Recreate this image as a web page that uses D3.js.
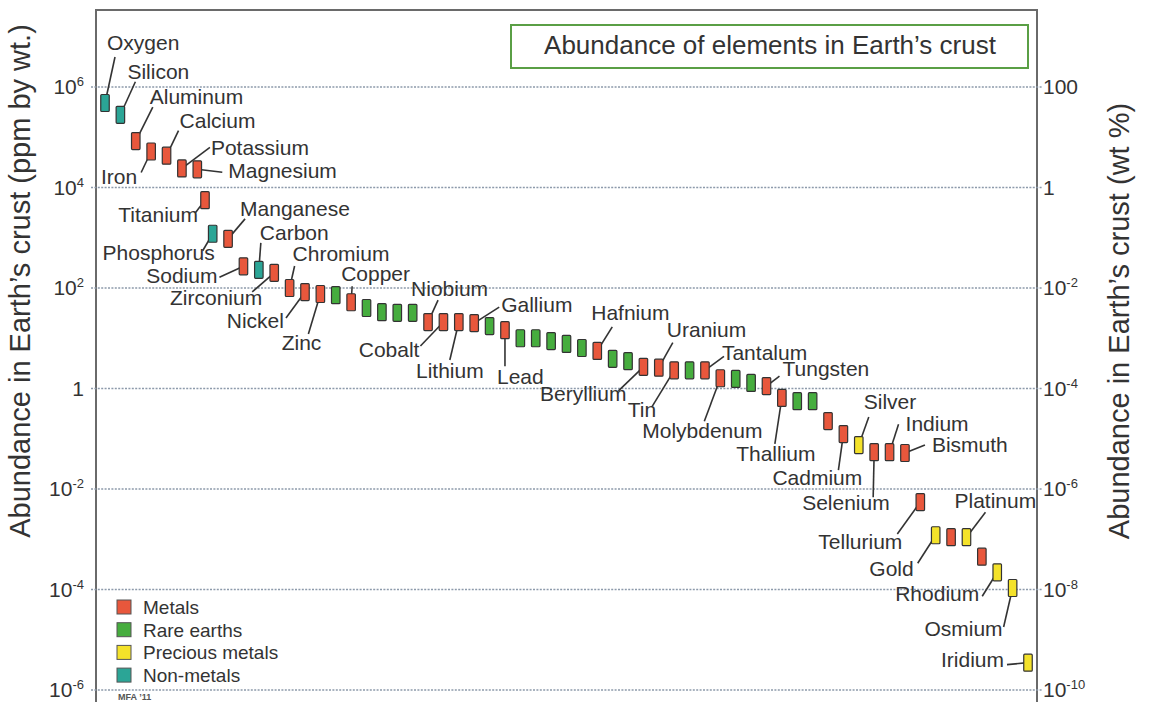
<!DOCTYPE html>
<html><head><meta charset="utf-8">
<script src="https://cdn.jsdelivr.net/npm/d3@7"></script>
<style>body{margin:0;background:#fff}svg{display:block;font-family:"Liberation Sans",Arial,Helvetica,sans-serif}</style>
</head><body><svg id="c" width="1171" height="702"></svg>
<script>
// ---------------- data ----------------
const names = ["Oxygen","Silicon","Aluminum","Iron","Calcium","Potassium","Magnesium","Titanium","Phosphorus","Manganese",
"Sodium","Carbon","Zirconium","Chromium","Nickel","Zinc","","Copper","","",
"","","Niobium","Cobalt","Lithium","Gallium","","Lead","","",
"","","","Hafnium","","","Beryllium","Uranium","Tin","",
"Tantalum","Molybdenum","","","Tungsten","Thallium","","","","Cadmium",
"Silver","Selenium","Indium","Bismuth","Tellurium","Gold","","Platinum","","Rhodium",
"Osmium","Iridium"];
const groups = ["N","N","M","M","M","M","M","M","N","M",
"M","N","M","M","M","M","R","M","R","R",
"R","R","M","M","M","M","R","M","R","R",
"R","R","R","M","R","R","M","M","M","R",
"M","M","R","R","M","M","R","R","M","M",
"P","M","M","M","M","P","M","P","M","P",
"P","P"];
// position of each element along the ranked axis (Titanium shares a half column)
const order = [0,1,2,3,4,5,6,6.5,7,8,
9,10,11,12,13,14,15,16,17,18,
19,20,21,22,23,24,25,26,27,28,
29,30,31,32,33,34,35,36,37,38,
39,40,41,42,43,44,45,46,47,48,
49,50,51,52,53,54,55,56,57,58,
59,60];
const ppm = [4.8e5,2.8e5,8.4e4,5.2e4,4.3e4,2.4e4,2.3e4,5.6e3,1.2e3,9.5e2,
270,230,200,100,83,76,72,52,40,33,
32,32,21,21,21,20,17.5,14.5,10,10,
8.8,7.7,6.4,5.6,3.9,3.5,2.7,2.6,2.3,2.3,
2.3,1.6,1.55,1.29,1.12,0.65,0.56,0.56,0.225,0.124,
0.075,0.054,0.054,0.052,0.0055,0.0012,0.0011,0.0011,0.00045,0.00022,
0.000107,3.5e-6];
const leftTicks = [1e6,1e4,1e2,1,1e-2,1e-4,1e-6];
const rightTicks = [100,1,1e-2,1e-4,1e-6,1e-8,1e-10];
const legendKeys = ["M","R","P","N"];
const legendLabels = ["Metals","Rare earths","Precious metals","Non-metals"];
const titleText = "Abundance of elements in Earth\u2019s crust";
const leftTitle = "Abundance in Earth\u2019s crust (ppm by wt.)";
const rightTitle = "Abundance in Earth\u2019s crust (wt %)";
const credit = "MFA \u201911";

// ---------------- styling / layout ----------------
const colors = {M:"#e8573c", R:"#46ad3e", P:"#f4e22a", N:"#2ba596"};
const frame = {left:96, right:1037, top:10, bottom:712};
// label layout: [text dx, text dy, anchor, leader-end dx, leader-end dy] relative to bar centre
const labelLayout = {
 Oxygen:[2,-53,"start",10,-46], Silicon:[7,-36,"start",15,-33], Aluminum:[14,-37,"start",17,-34],
 Iron:[-14,32,"end",-10,21], Calcium:[13,-28,"start",12,-25], Potassium:[29,-13,"start",28,-21],
 Magnesium:[31,9,"start",25,3], Titanium:[-7,22,"end",-10,13], Phosphorus:[2,26,"end",-10,17],
 Manganese:[12,-23,"start",17,-20], Sodium:[-26,17,"end",-24,11], Carbon:[1,-30,"start",2,-27],
 Zirconium:[-12,32,"end",-22,19], Chromium:[3,-27,"start",5,-22], Nickel:[-21,36,"end",-19,26],
 Zinc:[1,56,"end",-12,40], Copper:[-10,-21,"start",1,-16], Niobium:[-17,-26,"start",10,-22],
 Cobalt:[-24,35,"end",-23,24], Lithium:[-9,56,"middle",-9,38], Gallium:[27,-11,"start",25,-16],
 Lead:[-8,54,"start",0,36], Hafnium:[-6,-31,"start",15,-24], Beryllium:[-17,34,"end",-25,24],
 Uranium:[8,-31,"start",14,-25], Tin:[-18,47,"end",-22,36], Tantalum:[17,-10,"start",19,-14],
 Molybdenum:[-18,60,"middle",-16,43], Tungsten:[16,-10,"start",13,-10], Thallium:[-6,63,"middle",-7,46],
 Cadmium:[-71,51,"start",-5,36], Silver:[5,-36,"start",10,-28], Selenium:[-72,58,"start",-1,45],
 Indium:[16,-21,"start",9,-28], Bismuth:[27,-1,"start",20,-8], Tellurium:[-18,47,"end",-23,32],
 Gold:[-22,41,"end",-18,28], Platinum:[-12,-29,"start",19,-25], Rhodium:[-18,29,"end",-15,24],
 Osmium:[-10,48,"end",-9,39], Iridium:[-24,4,"end",-21,2]
};

const svg = d3.select("#c");
const data = names.map((n,i)=>({name:n, group:groups[i], pos:order[i], v:ppm[i]}));

const x = d3.scaleLinear().domain([0,60]).range([105,1028]);
const y = d3.scaleLog().domain([1e-6,1e6]).range([690,87]);
const yR = d3.scaleLog().domain([1e-10,1e2]).range([690,87]);

const txt = "#333";

// frame
svg.append("rect").attr("x",frame.left).attr("y",frame.top)
  .attr("width",frame.right-frame.left).attr("height",frame.bottom-frame.top)
  .attr("fill","#fff").attr("stroke","#6a6a6a").attr("stroke-width",2);

// gridlines (dotted, extending as ticks on both sides)
svg.append("g").selectAll("line").data(leftTicks).join("line")
  .attr("x1",frame.left-5).attr("x2",frame.right+5)
  .attr("y1",d=>y(d)).attr("y2",d=>y(d))
  .attr("stroke","#8d9aab").attr("stroke-width",1.6).attr("stroke-dasharray","2,1.4");

function supLabel(sel, v, isRight){
  const e = Math.round(Math.log10(v));
  sel.text(null);
  if (e===0) { sel.append("tspan").text("1"); return; }
  if (isRight && e===2) { sel.append("tspan").text("100"); return; }
  sel.append("tspan").text("10");
  sel.append("tspan").attr("dy",-8).attr("font-size",13).text(e);
}

const axL = d3.axisLeft(y).tickValues(leftTicks).tickSize(0).tickPadding(12);
const gL = svg.append("g").attr("transform",`translate(${frame.left},0)`).call(axL);
gL.select(".domain").remove();
gL.selectAll("text").attr("font-size",21).attr("fill",txt).attr("font-family",null)
  .each(function(d){ supLabel(d3.select(this), d, false); });

const axR = d3.axisRight(yR).tickValues(rightTicks).tickSize(0).tickPadding(6);
const gR = svg.append("g").attr("transform",`translate(${frame.right},0)`).call(axR);
gR.select(".domain").remove();
gR.selectAll("text").attr("font-size",21).attr("fill",txt).attr("font-family",null)
  .each(function(d){ supLabel(d3.select(this), d, true); });

// axis titles
svg.append("text").attr("transform","translate(30,281) rotate(-90)")
  .attr("text-anchor","middle").attr("font-size",29).attr("fill",txt).text(leftTitle);
svg.append("text").attr("transform","translate(1129,321) rotate(-90)")
  .attr("text-anchor","middle").attr("font-size",29).attr("fill",txt).text(rightTitle);

// title box
svg.append("rect").attr("x",511).attr("y",25).attr("width",517).attr("height",43)
  .attr("fill","#fff").attr("stroke","#5a9f45").attr("stroke-width",2);
svg.append("text").attr("x",770).attr("y",54).attr("text-anchor","middle")
  .attr("font-size",26).attr("fill",txt).text(titleText);

// leaders
const labeled = data.filter(d=>d.name && labelLayout[d.name]);
svg.append("g").selectAll("line").data(labeled).join("line")
  .attr("x1",d=>x(d.pos)).attr("y1",d=>y(d.v))
  .attr("x2",d=>x(d.pos)+labelLayout[d.name][3]).attr("y2",d=>y(d.v)+labelLayout[d.name][4])
  .attr("stroke","#333").attr("stroke-width",1.6);

// bars
const bw = 8.5, bh = 17;
svg.append("g").selectAll("rect").data(data).join("rect")
  .attr("x",d=>x(d.pos)-bw/2).attr("y",d=>y(d.v)-bh/2)
  .attr("width",bw).attr("height",bh).attr("rx",1)
  .attr("fill",d=>colors[d.group]).attr("stroke","#333").attr("stroke-width",1.2);

// labels
svg.append("g").selectAll("text").data(labeled).join("text")
  .attr("x",d=>x(d.pos)+labelLayout[d.name][0]).attr("y",d=>y(d.v)+labelLayout[d.name][1])
  .attr("text-anchor",d=>labelLayout[d.name][2])
  .attr("font-size",21).attr("fill",txt).text(d=>d.name);

// legend
const lg = svg.append("g");
legendKeys.forEach((k,i)=>{
  const cy = 607 + i*22.7;
  lg.append("rect").attr("x",117).attr("y",cy-7).attr("width",14).attr("height",14)
    .attr("fill",colors[k]).attr("stroke","#555").attr("stroke-width",1);
  lg.append("text").attr("x",143).attr("y",cy+7).attr("font-size",19).attr("fill",txt).text(legendLabels[i]);
});
svg.append("text").attr("x",118).attr("y",700).attr("font-size",9).attr("font-weight","bold")
  .attr("fill","#555").text(credit);
</script></body></html>
